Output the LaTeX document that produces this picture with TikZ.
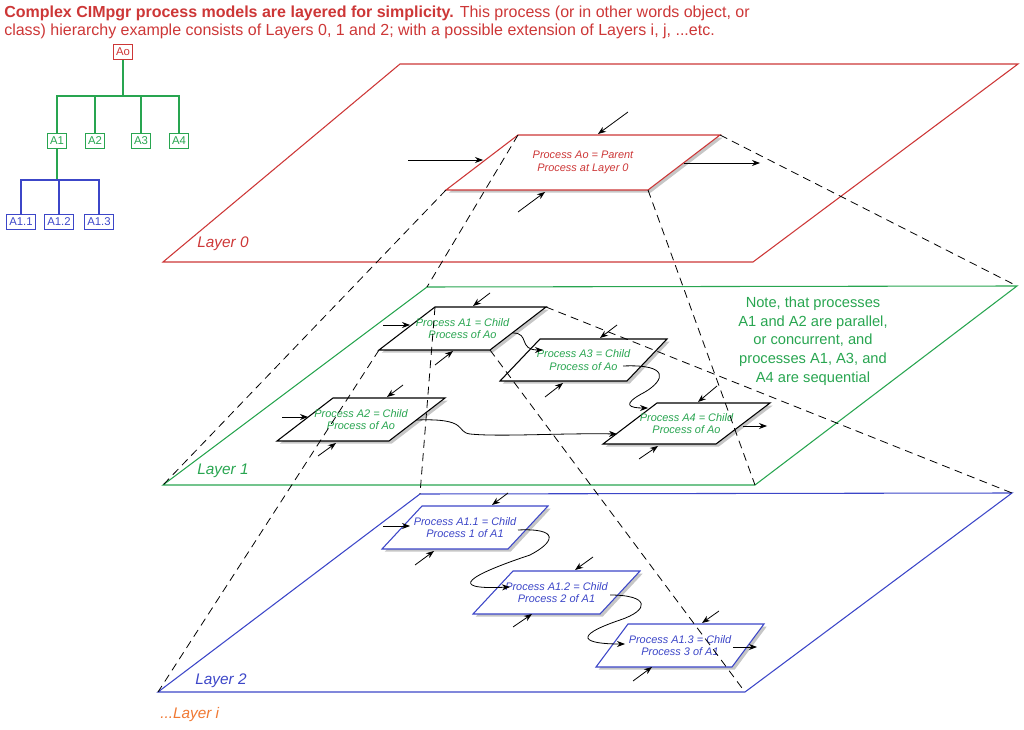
\documentclass[tikz,border=0pt]{standalone}
\usepackage{fontspec}
\setmainfont{Liberation Sans}
\usetikzlibrary{arrows.meta,shadows}
\definecolor{cred}{RGB}{205,55,55}
\definecolor{cgreen}{RGB}{40,165,80}
\definecolor{cblue}{RGB}{60,70,200}
\definecolor{corange}{RGB}{240,120,50}
\tikzset{
  arr/.style={-{Stealth[length=6pt,width=4.5pt]},line width=0.6pt,black},
  flow/.style={-{Stealth[length=6pt,width=4.5pt]},line width=0.6pt,black},
  dsh/.style={dashed,dash pattern=on 6pt off 4pt,line width=0.6pt,black},
  layer/.style={line width=0.8pt},
  ptext/.style={font=\fontsize{8.2}{9.6}\selectfont\itshape,align=center},
  tbox/.style={draw,font=\fontsize{8.5}{9}\selectfont,inner xsep=2pt,inner ysep=1.5pt,minimum height=11pt},
}
% name, tl x, tl y, width, height, skew, outline colour, text colour, text
\newcommand\proc[9]{%
  \coordinate (#1tl) at (#2,#3);
  \coordinate (#1tr) at ({#2+#4},#3);
  \coordinate (#1br) at ({#2+#4-#6},{#3+#5});
  \coordinate (#1bl) at ({#2-#6},{#3+#5});
  \draw[#7,line width=0.8pt,fill=white,drop shadow={opacity=0.45,shadow xshift=2pt,shadow yshift=-2pt}]
    (#1tl)--(#1tr)--(#1br)--(#1bl)--cycle;
  \node[ptext,text=#8] (#1) at ({#2+(#4-#6)/2},{#3+#5/2}) {#9};
}
\newcommand\myarr[5]{\coordinate (#1s) at (#2,#3); \coordinate (#1e) at (#4,#5); \draw[arr] (#1s)--(#1e);}
\begin{document}
\begin{tikzpicture}[x=0.75pt,y=-0.75pt]
\useasboundingbox (0,0) rectangle (1024,730);
% title
\node[anchor=base west,inner sep=0,text=cred,font=\fontsize{12}{13}\selectfont] (t1) at (4,18) {\textbf{Complex CIMpgr process models are layered for simplicity.} This process (or in other words object, or};
\node[anchor=base west,inner sep=0,text=cred,font=\fontsize{12}{13}\selectfont] (t2) at (4,36) {class) hierarchy example consists of Layers 0, 1 and 2; with a possible extension of Layers i, j, ...etc.};
% tree
\node[tbox,draw=cred,text=cred] (tAo) at (123,52) {Ao};
\node[tbox,draw=cgreen,text=cgreen] (tA1) at (57,141) {A1};
\node[tbox,draw=cgreen,text=cgreen] (tA2) at (95,141) {A2};
\node[tbox,draw=cgreen,text=cgreen] (tA3) at (141,141) {A3};
\node[tbox,draw=cgreen,text=cgreen] (tA4) at (179,141) {A4};
\node[tbox,draw=cblue,text=cblue] (tA11) at (21,222) {A1.1};
\node[tbox,draw=cblue,text=cblue] (tA12) at (59,222) {A1.2};
\node[tbox,draw=cblue,text=cblue] (tA13) at (99,222) {A1.3};
\draw[cgreen,line width=0.8pt] (tAo.south) |- (122,96);
\draw[cgreen,line width=0.8pt] (tA1.north) |- (122,96) -| (tA4.north);
\draw[cgreen,line width=0.8pt] (tA2.north) -- (tA2.north|-0,96);
\draw[cgreen,line width=0.8pt] (tA3.north) -- (tA3.north|-0,96);
\draw[cgreen,line width=0.8pt] (tA1.south) -- (tA1.south|-0,180);
\draw[cblue,line width=0.8pt] (tA11.north) |- (tA13.north|-0,180) -- (tA13.north);
\draw[cblue,line width=0.8pt] (tA12.north) -- (tA12.north|-0,180);
% layers
\coordinate (L0a) at (163,262); \coordinate (L0b) at (753,262); \coordinate (L0c) at (1018,64); \coordinate (L0d) at (400,64);
\coordinate (L1a) at (163,485); \coordinate (L1b) at (755,485); \coordinate (L1c) at (1017,286); \coordinate (L1d) at (427,287);
\coordinate (L2a) at (158,692); \coordinate (L2b) at (745,692); \coordinate (L2c) at (1012,493); \coordinate (L2d) at (420,494);
\draw[layer,cred] (L0a)--(L0b)--(L0c)--(L0d)--cycle;
\draw[layer,cgreen] (L1a)--(L1b)--(L1c)--(L1d)--cycle;
\draw[layer,cblue] (L2a)--(L2b)--(L2c)--(L2d)--cycle;
\node[text=cred,font=\fontsize{11.5}{12}\selectfont\itshape] (lay0) at (223,244) {Layer 0};
\node[text=cgreen,font=\fontsize{11.5}{12}\selectfont\itshape] (lay1) at (223,471) {Layer 1};
\node[text=cblue,font=\fontsize{11.5}{12}\selectfont\itshape] (lay2) at (221,681) {Layer 2};
\node[text=corange,font=\fontsize{11.5}{12}\selectfont\itshape,anchor=west,inner sep=0] (layi) at (160,715) {...Layer i};
\node[text=cgreen,font=\fontsize{11}{14}\selectfont,align=center] (note) at (813,341) {Note, that processes\\A1 and A2 are parallel,\\or concurrent, and\\processes A1, A3, and\\A4 are sequential};
% processes
\proc{Ao}{518}{135}{202}{55}{72}{cred}{cred}{Process Ao = Parent\\Process at Layer 0}
\proc{A1}{435}{307}{111}{43}{56}{black}{cgreen}{Process A1 = Child\\Process of Ao}
\proc{A3}{540}{339}{127}{42}{40}{black}{cgreen}{Process A3 = Child\\Process of Ao}
\proc{A2}{333}{398}{112}{43}{56}{black}{cgreen}{Process A2 = Child\\Process of Ao}
\proc{A4}{657}{403}{113}{41}{54}{black}{cgreen}{Process A4 = Child\\Process of Ao}
\proc{B1}{422}{506}{126}{43}{40}{cblue}{cblue}{Process A1.1 = Child\\Process 1 of A1}
\proc{B2}{513}{571}{127}{43}{40}{cblue}{cblue}{Process A1.2 = Child\\Process 2 of A1}
\proc{B3}{628}{624}{136}{43}{32}{cblue}{cblue}{Process A1.3 = Child\\Process 3 of A1}
% dashed projection lines
\draw[dsh] (Aobl)--(L1a);
\draw[dsh] (Aotl)--(L1d);
\draw[dsh] (Aobr)--(L1b);
\draw[dsh] (Aotr)--(L1c);
\draw[dsh] (A1bl)--(L2a);
\draw[dsh] (A1tl)--(L2d);
\draw[dsh] (A1br)--(L2b);
\draw[dsh] (A1tr)--(L2c);
% arrows Ao
\myarr{a1}{408}{160}{483}{160}
\myarr{a2}{628}{112}{598}{134}
\myarr{a3}{518}{212}{545}{192}
\myarr{a4}{684}{163}{760}{163}
% A1
\myarr{b1}{490}{293}{473}{306}
\myarr{b2}{383}{325}{410}{325}
\myarr{b3}{435}{365}{453}{351}
% A3
\myarr{c1}{617}{325}{600}{338}
\myarr{c2}{545}{397}{563}{383}
% A2
\myarr{d1}{403}{385}{387}{397}
\myarr{d2}{282}{417}{308}{417}
\myarr{d3}{318}{456}{336}{443}
% A4
\myarr{e1}{717}{386}{698}{402}
\myarr{e2}{639}{459}{658}{446}
\myarr{e3}{743}{426}{767}{426}
% B1
\myarr{f1}{508}{493}{492}{505}
\myarr{f2}{383}{526}{410}{526}
\myarr{f3}{415}{565}{434}{551}
% B2
\myarr{g1}{593}{557}{575}{570}
\myarr{g2}{513}{627}{532}{614}
% B3
\myarr{h1}{719}{611}{702}{623}
\myarr{h2}{733}{647}{757}{647}
\myarr{h3}{633}{681}{652}{667}
% flows
\coordinate (A1o) at (513,333); \coordinate (A3i) at (543,350);
\draw[flow] (A1o) .. controls (530,333) and (518,350) .. (A3i);
\coordinate (A3o) at (623,366); \coordinate (A4i) at (648,408);
\draw[flow] (A3o) .. controls (670,364) and (665,380) .. (645,392) .. controls (620,405) and (630,408) .. (A4i);
\coordinate (A2o) at (417,420); \coordinate (A4j) at (617,434);
\draw[flow] (A2o) .. controls (470,418) and (455,432) .. (470,434) .. controls (500,437) and (560,433) .. (A4j);
\coordinate (B1o) at (518,530); \coordinate (B2i) at (510,587);
\draw[flow] (B1o) .. controls (560,528) and (555,542) .. (530,555) .. controls (470,575) and (445,590) .. (B2i);
\coordinate (B2o) at (610,595); \coordinate (B3i) at (625,644);
\draw[flow] (B2o) .. controls (650,595) and (650,610) .. (620,620) .. controls (570,637) and (585,644) .. (B3i);
\end{tikzpicture}
\end{document}
